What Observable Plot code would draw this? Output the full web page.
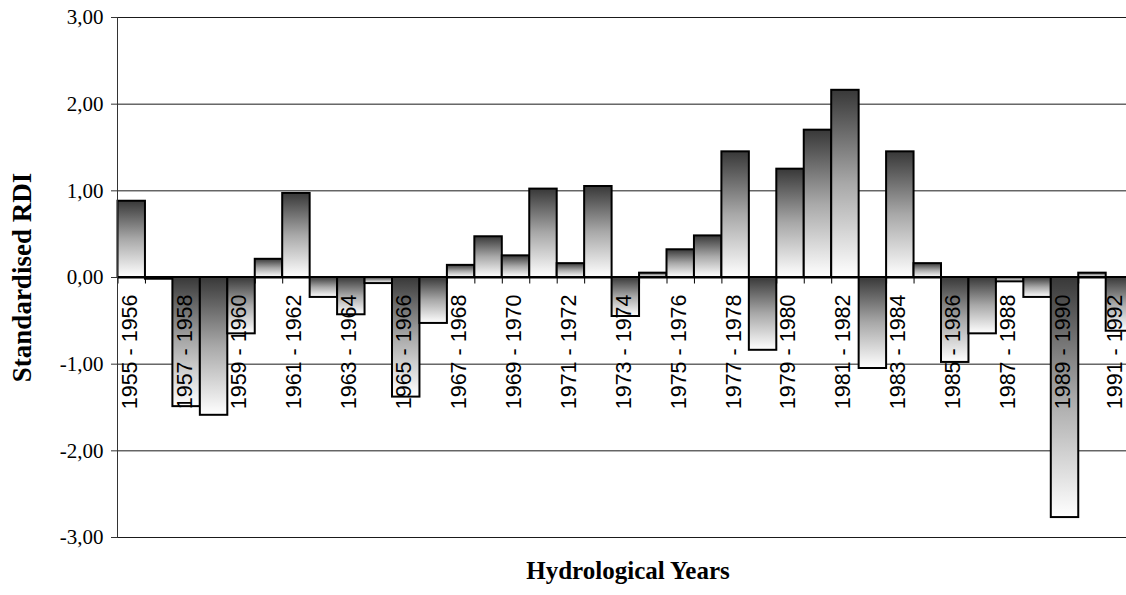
<!DOCTYPE html>
<html>
<head>
<meta charset="utf-8">
<script src="https://cdn.jsdelivr.net/npm/d3@7"></script>
<script src="https://cdn.jsdelivr.net/npm/@observablehq/plot@0.6"></script>
<style>
  html, body { margin: 0; padding: 0; background: #fff; overflow: hidden; }
</style>
</head>
<body>
<div id="chart"></div>
<script>
const categories = [
  "1955 - 1956","1956 - 1957","1957 - 1958","1958 - 1959","1959 - 1960","1960 - 1961",
  "1961 - 1962","1962 - 1963","1963 - 1964","1964 - 1965","1965 - 1966","1966 - 1967",
  "1967 - 1968","1968 - 1969","1969 - 1970","1970 - 1971","1971 - 1972","1972 - 1973",
  "1973 - 1974","1974 - 1975","1975 - 1976","1976 - 1977","1977 - 1978","1978 - 1979",
  "1979 - 1980","1980 - 1981","1981 - 1982","1982 - 1983","1983 - 1984","1984 - 1985",
  "1985 - 1986","1986 - 1987","1987 - 1988","1988 - 1989","1989 - 1990","1990 - 1991",
  "1991 - 1992"
];
const rdiValues = [
  0.88, -0.02, -1.49, -1.59, -0.65, 0.21, 0.97, -0.23, -0.43, -0.07,
  -1.38, -0.53, 0.14, 0.47, 0.25, 1.02, 0.16, 1.05, -0.45, 0.05,
  0.32, 0.48, 1.45, -0.84, 1.25, 1.70, 2.16, -1.05, 1.45, 0.16,
  -0.98, -0.65, -0.05, -0.23, -2.77, 0.05, -0.62
];
const yTicks = [-3, -2, -1, 0, 1, 2, 3];
const yTickLabels = ["-3,00", "-2,00", "-1,00", "0,00", "1,00", "2,00", "3,00"];
const labelledCategories = categories.filter((d, i) => i % 2 === 0);
const innerLabels = labelledCategories.slice(0, -1);
const edgeLabels = labelledCategories.slice(-1);

const data = categories.map((c, i) => ({year: c, rdi: rdiValues[i]}));
const yLabelData = yTicks.map((v, i) => ({v, label: yTickLabels[i]}));

const W = 1126, H = 595;
const left = 117.5, step = 27.45;

const xLabelStyle = {
  x: d => d,
  y: 0,
  text: d => d,
  rotate: -90,
  textAnchor: "end",
  lineAnchor: "middle",
  dy: 17,
  fontSize: 21.5,
  fontFamily: "Liberation Sans, Arial, sans-serif",
  fill: "#000"
};

const chart = Plot.plot({
  width: W,
  height: H,
  marginLeft: 117,
  marginRight: 0,
  marginTop: 17,
  marginBottom: 58,
  style: {background: "white", overflow: "hidden"},
  x: {type: "band", domain: categories, range: [left, left + categories.length * step], padding: 0, round: false, axis: null},
  y: {domain: [-3, 3], axis: null},
  marks: [
    Plot.ruleY(yTicks, {stroke: "#1a1a1a", strokeWidth: 1}),
    Plot.ruleX(categories, {x: d => d, y1: 0, y2: -0.075, dx: -step / 2, stroke: "#000", strokeWidth: 1}),
    Plot.ruleY([0], {stroke: "#000", strokeWidth: 2}),
    Plot.barY(data, {x: "year", y: "rdi", fill: "url(#barGrad)", stroke: "#000", strokeWidth: 2, inset: 0}),
    Plot.frame({anchor: "left", stroke: "#333", strokeWidth: 1}),
    Plot.axisY({
      ticks: yTicks,
      tickFormat: () => "",
      tickSize: 6,
      label: null,
      stroke: "#333"
    }),
    Plot.text(yLabelData, {
      y: "v",
      text: "label",
      frameAnchor: "left",
      textAnchor: "end",
      dx: -14,
      fontSize: 21,
      fontFamily: "Liberation Serif, Times New Roman, serif",
      fill: "#000"
    }),
    Plot.text(innerLabels, {...xLabelStyle, dx: -2}),
    Plot.text(edgeLabels, {...xLabelStyle, dx: -5}),
    Plot.text(["Standardised RDI"], {
      frameAnchor: "left",
      textAnchor: "middle",
      dx: -95,
      rotate: -90,
      fontSize: 27,
      fontWeight: "bold",
      fontFamily: "Liberation Serif, Times New Roman, serif",
      fill: "#000"
    }),
    Plot.text(["Hydrological Years"], {
      frameAnchor: "bottom",
      textAnchor: "middle",
      dx: 6,
      dy: 41,
      fontSize: 25,
      fontWeight: "bold",
      fontFamily: "Liberation Serif, Times New Roman, serif",
      fill: "#000"
    })
  ]
});

// vertical gradient used by each bar (dark top to white bottom)
const ns = "http://www.w3.org/2000/svg";
const defs = document.createElementNS(ns, "defs");
const grad = document.createElementNS(ns, "linearGradient");
grad.setAttribute("id", "barGrad");
grad.setAttribute("x1", "0"); grad.setAttribute("y1", "0");
grad.setAttribute("x2", "0"); grad.setAttribute("y2", "1");
[["0", "#383838"], ["0.5", "#a8a8a8"], ["1", "#ffffff"]].forEach(([o, c]) => {
  const s = document.createElementNS(ns, "stop");
  s.setAttribute("offset", o);
  s.setAttribute("stop-color", c);
  grad.appendChild(s);
});
defs.appendChild(grad);
chart.insertBefore(defs, chart.firstChild);

document.getElementById("chart").appendChild(chart);
</script>
</body>
</html>
